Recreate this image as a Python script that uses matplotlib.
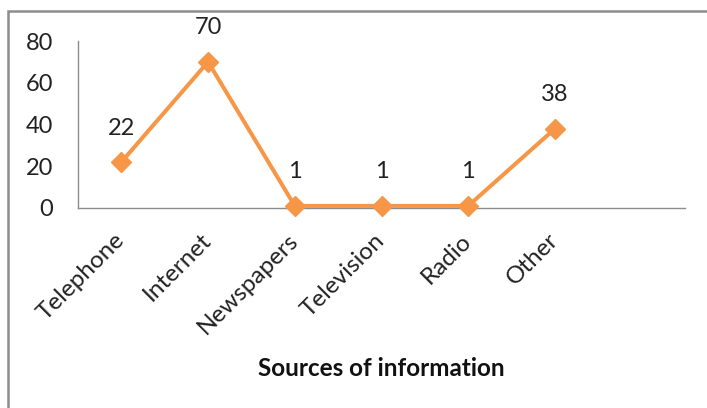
import matplotlib
matplotlib.use("Agg")
import matplotlib.pyplot as plt
from matplotlib.patches import Rectangle

categories = ["Telephone", "Internet", "Newspapers", "Television", "Radio", "Other"]
values = [22, 70, 1, 1, 1, 38]
y_ticks = [0, 20, 40, 60, 80]
x_title = "Sources of information"

plt.rcParams['font.family'] = ['Lato', 'DejaVu Sans']

W, H = 707, 408
fig = plt.figure(figsize=(W / 100, H / 100), dpi=100)
ax = fig.add_axes([78 / W, 1 - 208 / H, (685 - 78) / W, (208 - 41) / H])

color = '#F79646'
x = list(range(len(categories)))
ax.plot(x, values, color=color, lw=2.9, marker='D', markersize=10.5,
        markeredgecolor=color, markerfacecolor=color, solid_joinstyle='miter', zorder=3,
        clip_on=False)
for xi, v in zip(x, values):
    ax.annotate(str(v), (xi, v), xytext=(0, 24.5), textcoords='offset points',
                ha='center', va='center', fontsize=17, color='#222222')

ax.set_xlim(-0.5, 6.5)
ax.set_ylim(0, 80)
ax.set_yticks(y_ticks)
ax.set_xticks(x)
ax.set_xticklabels(categories, rotation=45, ha='right', va='center', rotation_mode='anchor')
ax.tick_params(axis='y', length=0, pad=18, labelsize=17, labelcolor='#222222')
ax.tick_params(axis='x', length=0, pad=21, labelsize=17.5, labelcolor='#222222')
ax.spines['top'].set_visible(False)
ax.spines['right'].set_visible(False)
for s in ['left', 'bottom']:
    ax.spines[s].set_color('#8c8c8c')
    ax.spines[s].set_linewidth(1.0)

ax.set_xlabel(x_title, fontsize=17.5, fontweight='bold', color='#111111')
ax.xaxis.set_label_coords(0.5, -(368 - 208) / 167)
ax.xaxis.label.set_va('center')

fig.patches.append(Rectangle((8 / W, -0.2), 1.2, 1 - 11 / H + 0.2, transform=fig.transFigure,
                             fill=False, edgecolor='#8c8c8c', linewidth=1.8))

fig.savefig('out.png', dpi=100)
